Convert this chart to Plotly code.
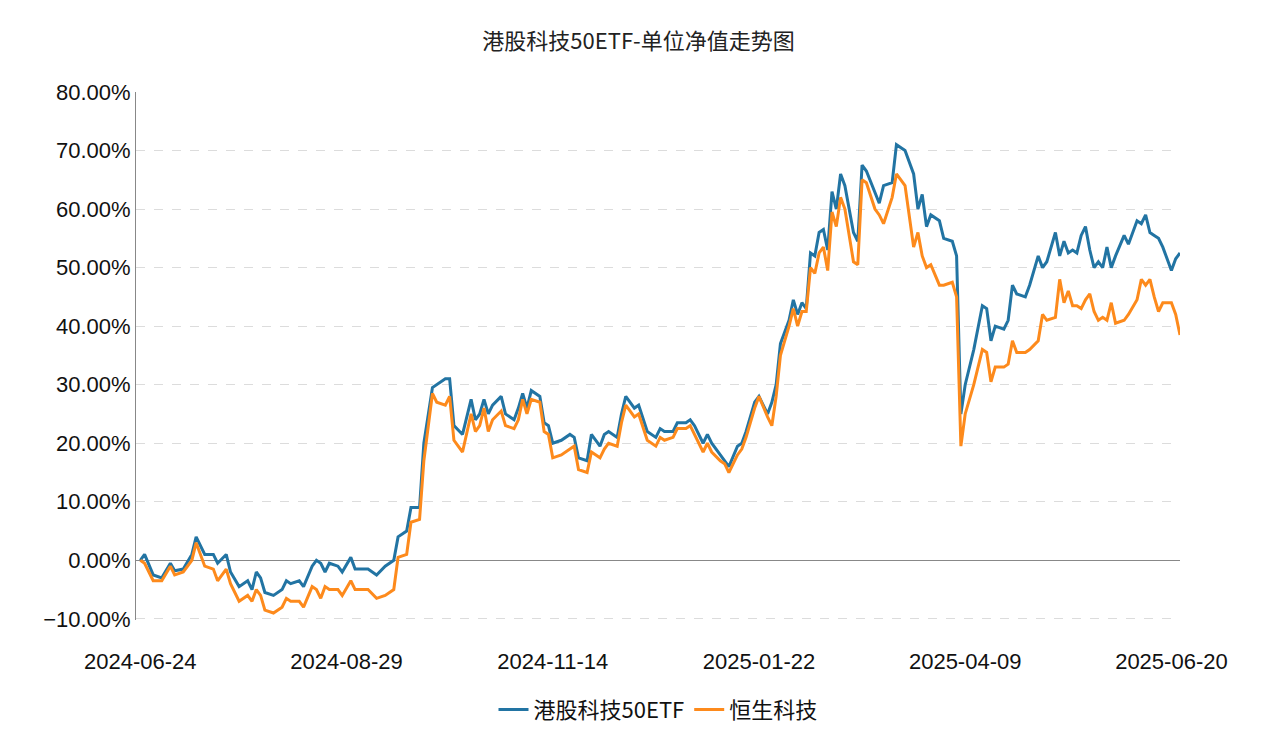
import plotly.graph_objects as go

# trading-day index (0 = 2024-06-24)
day = [0, 1, 3, 5, 7, 8, 10, 12, 13, 15,
       17, 18, 20, 21, 23, 25, 26, 27, 28, 29,
       31, 33, 34, 35, 37, 38, 40, 41, 42, 43,
       44, 46, 47, 49, 50, 51, 53, 55, 57, 59,
       60, 62, 63, 65, 66, 68, 69, 71, 72, 73,
       75, 77, 78, 79, 80, 81, 82, 84, 85, 87,
       88, 89, 90, 91, 93, 94, 95, 96, 98, 100,
       101, 102, 104, 105, 107, 108, 109, 111, 112, 113,
       115, 116, 118, 120, 121, 122, 124, 125, 127, 128,
       129, 131, 132, 133, 135, 136, 137, 139, 140, 141,
       143, 144, 146, 147, 148, 149, 151, 152, 153, 154,
       155, 156, 157, 158, 159, 160, 161, 162, 163, 164,
       166, 167, 168, 169, 171, 172, 173, 175, 176, 178,
       180, 181, 182, 183, 184, 186, 187, 189, 190, 191,
       192, 194, 196, 197, 198, 199, 201, 202, 203, 204,
       206, 207, 209, 210, 211, 213, 214, 215, 216, 217,
       218, 219, 220, 221, 222, 223, 224, 225, 226, 227,
       229, 230, 232, 233, 234, 235, 236, 237, 238, 240,
       241, 242]

etf = [0, 1, -2.5, -3, -0.5, -1.8, -1.5, 1, 4, 1,
       1, -0.5, 1, -2, -4.5, -3.5, -5, -2, -3, -5.5,
       -6, -5, -3.5, -4, -3.5, -4.5, -1, 0, -0.5, -2,
       -0.5, -1, -2, 0.5, -1.5, -1.5, -1.5, -2.5, -1, 0,
       4, 5, 9, 9, 20, 29.5, 30, 31, 31, 23,
       21.5, 27.5, 24, 25, 27.5, 25, 26.5, 28, 25, 24,
       26, 28.5, 26, 29, 28, 23.5, 23, 20, 20.5, 21.5,
       21, 17.5, 17, 21.5, 19.5, 21.5, 22, 21, 25, 28,
       26, 26.5, 22, 21, 22.5, 22, 22, 23.5, 23.5, 24,
       23, 20, 21.5, 20, 18, 17, 16, 19.5, 20, 22,
       27, 28, 25, 27, 30, 37, 41, 44.5, 42, 44,
       43, 52.5, 52, 56, 56.5, 53, 63, 60, 66, 64,
       56, 54.5, 67.5, 66.5, 63, 61, 64, 64.5, 71, 70,
       66, 60, 62.5, 57, 59, 58, 55, 54.5, 52, 25,
       30, 36, 43.5, 43, 37.5, 40, 39.5, 41, 47, 45.5,
       45, 47, 52, 50, 51, 56, 52, 54.5, 52.5, 53,
       52.5, 55.5, 57, 53, 50, 51, 50, 53.5, 50, 52,
       55.5, 54, 58, 57.5, 59, 56, 55.5, 55, 53.5, 49.5,
       51.5, 52.5]

hstech = [0, -0.5, -3.5, -3.5, -1, -2.5, -2, 0, 3, -1,
          -1.5, -3.5, -1.5, -4, -7, -6, -7, -5, -6, -8.5,
          -9, -8, -6.5, -7, -7, -8, -4.5, -5, -6.5, -4.5,
          -5, -5, -6, -3.5, -5, -5, -5, -6.5, -6, -5,
          0.5, 1, 6.5, 7, 17, 28.5, 27, 26.5, 28, 20.5,
          18.5, 25, 22, 23, 26, 22, 24, 25.5, 23, 22.5,
          24, 27.5, 25, 27.5, 27, 22, 21.5, 17.5, 18, 19,
          19.5, 15.5, 15, 18.5, 17.5, 19, 20, 19.5, 23.5, 26.5,
          24.5, 25, 20.5, 19.5, 21, 20.5, 21, 22.5, 22.5, 23,
          21.5, 18.5, 20, 18.5, 17, 16.5, 15, 18, 19, 21,
          26, 28, 24.5, 23, 28, 35, 40, 43, 40, 42.5,
          42.5, 50, 49, 52.5, 53.5, 49.5, 59.5, 57, 62, 60,
          51, 50.5, 65, 64.5, 60, 59, 57.5, 62, 66, 64,
          53.5, 56, 52, 50, 50.5, 47, 47, 47.5, 45, 19.5,
          25, 30, 36, 35.5, 30.5, 33, 33, 33.5, 37.5, 35.5,
          35.5, 36, 37.5, 42, 41, 41.5, 48, 44, 46, 43.5,
          43.5, 43, 44.5, 45.5, 42.5, 41, 41.5, 41, 44, 40.5,
          41, 42, 44.5, 48, 47, 48, 45, 42.5, 44, 44,
          42, 38.5, 40, 41]

tick_days = [0, 48, 96, 144, 192, 240]
tick_labels = ["2024-06-24", "2024-08-29", "2024-11-14", "2025-01-22", "2025-04-09", "2025-06-20"]

n = min(len(day), len(etf), len(hstech))
x = day[:n]
y1 = [v / 100 for v in etf[:n]]
y2 = [v / 100 for v in hstech[:n]]

cjk = "Noto Sans CJK SC"
fig = go.Figure()
fig.add_trace(go.Scatter(x=x, y=y1, mode="lines", name="港股科技50ETF",
                         line=dict(color="#2274a3", width=3)))
fig.add_trace(go.Scatter(x=x, y=y2, mode="lines", name="恒生科技",
                         line=dict(color="#fd8a1c", width=3)))

fig.update_layout(
    width=1261, height=743,
    paper_bgcolor="white", plot_bgcolor="white",
    title=dict(text="港股科技50ETF-单位净值走势图", x=0.5, y=0.965, xanchor="center",
               font=dict(family=cjk, size=22, color="#222")),
    margin=dict(l=128, r=89, t=84, b=131),
    font=dict(family="Liberation Sans", size=22, color="#111"),
    legend=dict(orientation="h", x=0.5, xanchor="center", y=-0.13, yanchor="top",
                font=dict(family=cjk, size=22)),
    xaxis=dict(range=[-1, 242], tickvals=tick_days, ticktext=tick_labels,
               showgrid=False, zeroline=False, showline=False, ticks="",
               ticklabelstandoff=26),
    yaxis=dict(range=[-10.2 / 100, 80 / 100], dtick=0.1, tick0=0, tickformat=".2%",
               showgrid=True, gridcolor="#dcdcdc", griddash="dash",
               zeroline=True, zerolinecolor="#888", zerolinewidth=1,
               showline=True, linecolor="#888", ticks=""),
)
fig.write_html("out.html")
